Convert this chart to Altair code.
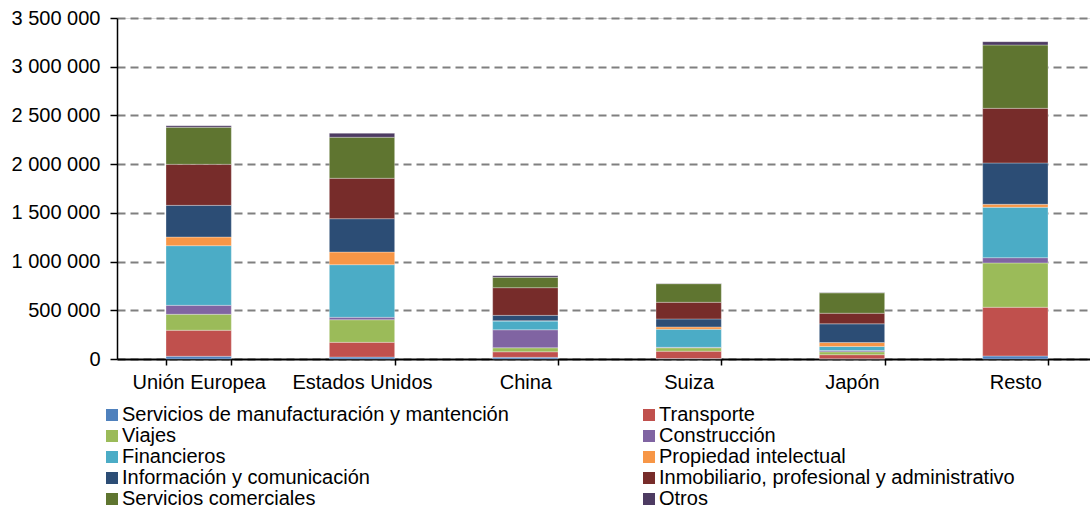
import altair as alt
import pandas as pd

regiones = ["Unión Europea", "Estados Unidos", "China", "Suiza", "Japón", "Resto"]
series = [
    "Servicios de manufacturación y mantención",
    "Transporte",
    "Viajes",
    "Construcción",
    "Financieros",
    "Propiedad intelectual",
    "Información y comunicación",
    "Inmobiliario, profesional y administrativo",
    "Servicios comerciales",
    "Otros",
]
colores = ["#4F81BD", "#C0504D", "#9BBB59", "#8064A2", "#4BACC6",
           "#F79646", "#2C4D75", "#772C2A", "#5F7530", "#4D3B62"]

# values per series, in the order of regiones
manufacturacion = [28000, 20000, 17000, 5000, 3000, 31000]
transporte = [267000, 151000, 57000, 75000, 41000, 500000]
viajes = [164000, 232000, 41000, 35000, 30000, 455000]
construccion = [92000, 25000, 185000, 5000, 13000, 54000]
financieros = [612000, 540000, 89000, 185000, 41000, 517000]
propiedad = [89000, 130000, 4000, 24000, 41000, 31000]
informacion = [325000, 342000, 55000, 82000, 192000, 424000]
inmobiliario = [421000, 415000, 284000, 171000, 109000, 561000]
comerciales = [380000, 421000, 106000, 191000, 209000, 650000]
otros = [16000, 41000, 17000, 2000, 4000, 34000]

valores = [manufacturacion, transporte, viajes, construccion, financieros,
           propiedad, informacion, inmobiliario, comerciales, otros]

rows = []
for si, (s, vals) in enumerate(zip(series, valores)):
    for r, v in zip(regiones, vals):
        rows.append({"region": r, "serie": s, "orden": si, "valor": v})
df = pd.DataFrame(rows)

FONT = "Liberation Sans"

chart = alt.Chart(df).mark_bar(stroke="white", strokeWidth=0.6, strokeOpacity=0.5).encode(
    x=alt.X("region:N", sort=regiones, title=None,
            scale=alt.Scale(paddingInner=0.6, paddingOuter=0.3, range=[0, 980]),
            axis=alt.Axis(labelAngle=0, labelFontSize=20, labelFont=FONT, labelColor="#000000",
                          labelPadding=7, tickBand="extent", tickSize=6, tickColor="#000000",
                          tickWidth=1.5, domainColor="#000000", domainWidth=2, grid=False,
                          labelLimit=300)),
    y=alt.Y("valor:Q", stack="zero", title=None,
            scale=alt.Scale(domain=[0, 3500000], nice=False),
            axis=alt.Axis(values=[0, 500000, 1000000, 1500000, 2000000, 2500000, 3000000, 3500000],
                          labelExpr="replace(format(datum.value, ','), /,/g, ' ')",
                          labelFontSize=20, labelFont=FONT, labelColor="#000000",
                          labelPadding=10, tickSize=7, tickColor="#000000", tickWidth=1.5,
                          domainColor="#000000", domainWidth=1.5,
                          grid=True, gridColor="#808080", gridWidth=2, gridDash=[8, 5])),
    color=alt.Color("serie:N", sort=series,
                    scale=alt.Scale(domain=series, range=colores),
                    legend=alt.Legend(title=None, orient="none", legendX=-21, legendY=387,
                                      direction="horizontal",
                                      columns=2, columnPadding=124, rowPadding=1,
                                      symbolType="square", symbolSize=144, symbolStrokeWidth=0,
                                      symbolOffset=6,
                                      labelFontSize=20, labelFont=FONT, labelColor="#000000",
                                      labelLimit=600, labelOffset=0, padding=0)),
    order=alt.Order("orden:Q", sort="ascending"),
).properties(
    width=973, height=341,
    autosize=alt.AutoSizeParams(type="none"),
    padding={"left": 117, "top": 18, "right": 0, "bottom": 153},
).configure_view(stroke=None).configure(background="white")

chart.save("out.html", embed_options={"renderer": "svg", "actions": False})
